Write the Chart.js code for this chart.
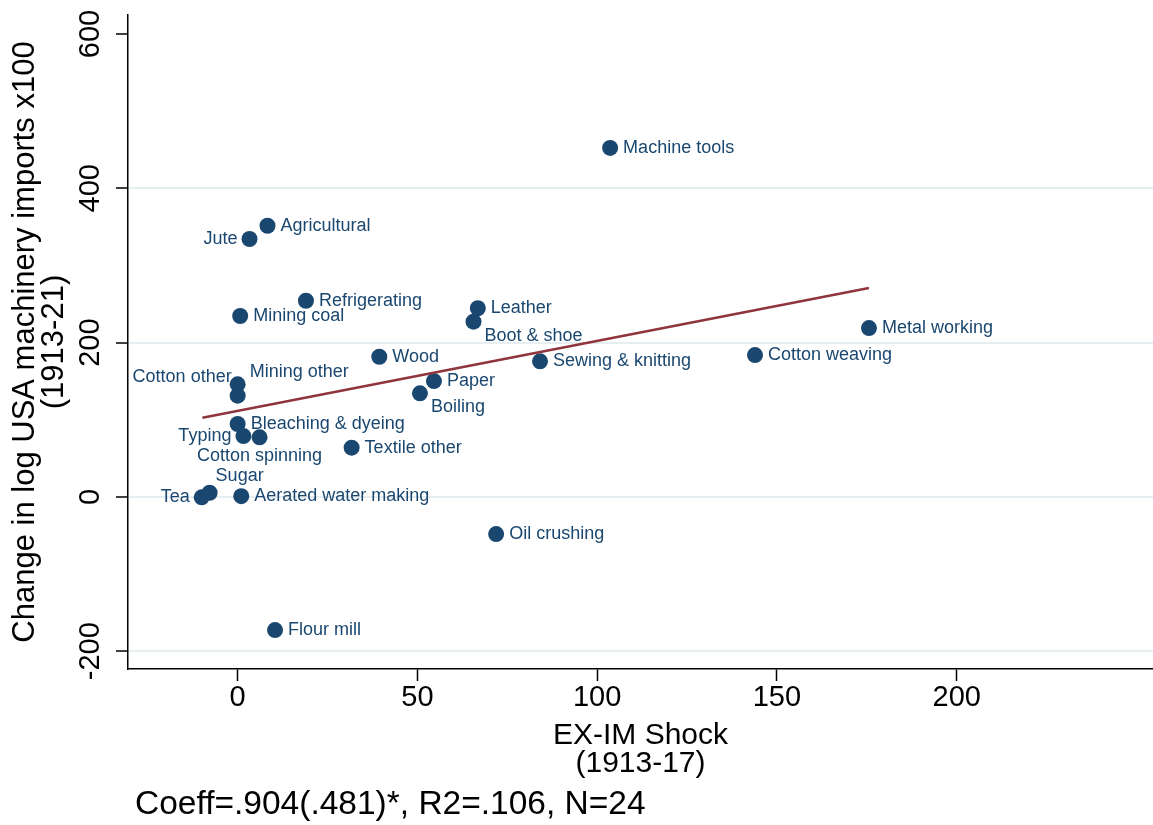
<!DOCTYPE html>
<html>
<head>
<meta charset="utf-8">
<script src="https://cdn.jsdelivr.net/npm/chart.js@4"></script>
<style>
  body { margin: 0; background: #fff; }
  #wrap { width: 1153px; height: 825px; }
</style>
</head>
<body>
<div id="wrap"><canvas id="shockChart" width="1153" height="825"></canvas></div>
<script>
// industries (marker labels)
const industries = ['Machine tools', 'Agricultural', 'Jute', 'Refrigerating', 'Mining coal', 'Leather',
  'Boot & shoe', 'Metal working', 'Wood', 'Cotton weaving', 'Sewing & knitting', 'Paper', 'Boiling',
  'Cotton other', 'Mining other', 'Bleaching & dyeing', 'Typing', 'Cotton spinning', 'Textile other',
  'Tea', 'Sugar', 'Aerated water making', 'Oil crushing', 'Flour mill'];
// EX-IM shock 1913-17
const shock = [103.6, 8.3, 3.3, 19.0, 0.7, 66.8, 65.6, 175.6, 39.4, 143.9, 84.1, 54.6, 50.7,
  0.0, 0.0, 0.0, 1.6, 6.1, 31.7, -10.0, -7.8, 1.0, 71.9, 10.4];
// change in log USA machinery imports x100, 1913-21
const importChange = [452.3, 351.5, 334.3, 254.3, 234.5, 244.5, 227.1, 218.9, 181.7, 183.9, 175.8, 150.2, 134.3,
  146.0, 131.2, 94.5, 78.9, 77.3, 63.8, -0.5, 5.4, 1.0, -48.1, -172.5];
// fitted line end points
const fitX = [-9.8, 175.6];
const fitY = [102.7, 270.8];
const xTicks = [0, 50, 100, 150, 200];
const yTicks = [-200, 0, 200, 400, 600];
const noteText = 'Coeff=.904(.481)*, R2=.106, N=24';

// where each marker label sits (clock position, Stata style)
const labelPos = [3, 3, 9, 3, 3, 3, 4, 3, 3, 3, 3, 3, 4, 10, 2, 3, 9, 6, 3, 9, 1, 3, 3, 3];
const clock = {
  1: [6, -17, 'left'], 2: [12, -24, 'left'], 3: [13, 0, 'left'], 4: [11, 14, 'left'],
  6: [0, 19, 'center'], 9: [-12, 0, 'right'], 10: [-6, -7, 'right']
};

const FONT = "'Liberation Sans', Arial, sans-serif";
const navy = '#1a476f';
const maroon = '#90353b';

const markerLabels = {
  id: 'markerLabels',
  afterDatasetsDraw(chart) {
    const ctx = chart.ctx;
    const meta = chart.getDatasetMeta(1);
    ctx.save();
    ctx.font = '18px ' + FONT;
    ctx.fillStyle = navy;
    ctx.textBaseline = 'middle';
    meta.data.forEach((pt, i) => {
      const p = clock[labelPos[i]];
      ctx.textAlign = p[2];
      ctx.fillText(industries[i], pt.x + p[0], pt.y + p[1]);
    });
    ctx.restore();
  }
};

const extraText = {
  id: 'extraText',
  afterDraw(chart) {
    const ctx = chart.ctx;
    const y = chart.scales.y;
    ctx.save();
    // y tick labels, turned like the reference
    ctx.font = '29px ' + FONT;
    ctx.fillStyle = '#000';
    ctx.textAlign = 'center';
    ctx.textBaseline = 'alphabetic';
    yTicks.forEach(v => {
      ctx.save();
      ctx.translate(99, y.getPixelForValue(v));
      ctx.rotate(-Math.PI / 2);
      ctx.fillText(String(v), 0, 0);
      ctx.restore();
    });
    // note under the graph
    ctx.font = '33.5px ' + FONT;
    ctx.textAlign = 'left';
    ctx.fillText(noteText, 135, 814);
    ctx.restore();
  }
};

const ctx = document.getElementById('shockChart').getContext('2d');
new Chart(ctx, {
  type: 'scatter',
  data: {
    datasets: [{
      label: 'Fitted values',
      data: fitX.map((x, i) => ({ x: x, y: fitY[i] })),
      showLine: true,
      borderColor: maroon,
      borderWidth: 2.5,
      pointRadius: 0,
      order: 0
    }, {
      label: 'Industries',
      data: shock.map((x, i) => ({ x: x, y: importChange[i] })),
      backgroundColor: navy,
      borderWidth: 0,
      pointRadius: 8,
      order: 1
    }]
  },
  options: {
    responsive: false,
    animation: false,
    layout: { autoPadding: false, padding: { top: 15, right: 0, bottom: 47, left: 0 } },
    plugins: { legend: { display: false }, tooltip: { enabled: false } },
    scales: {
      x: {
        min: -30.5,
        max: 254.6,
        afterBuildTicks: s => { s.ticks = xTicks.map(v => ({ value: v })); },
        afterFit: s => { s.height = 109; s.paddingLeft = 0; s.paddingRight = 0; },
        border: { color: '#000', width: 1.5 },
        grid: { drawOnChartArea: false, drawTicks: true, tickLength: 12, tickColor: '#000', tickWidth: 1.5 },
        ticks: { color: '#000', padding: 0, font: { family: FONT, size: 29, lineHeight: 1.2 } },
        title: {
          display: true,
          text: ['EX-IM Shock', '(1913-17)'],
          color: '#000',
          padding: 0,
          font: { family: FONT, size: 30, lineHeight: 0.95 }
        }
      },
      y: {
        min: -223,
        max: 624.6,
        afterBuildTicks: s => { s.ticks = yTicks.map(v => ({ value: v })); },
        afterFit: s => { s.width = 128; s.paddingTop = 0; s.paddingBottom = 0; },
        border: { color: '#000', width: 1.5 },
        grid: {
          color: c => (c.tick && c.tick.value === 600) ? 'rgba(0,0,0,0)' : '#e6eef1',
          lineWidth: 2,
          drawTicks: true,
          tickLength: 12,
          tickColor: '#000',
          tickWidth: 1.5
        },
        ticks: { display: false },
        title: {
          display: true,
          text: ['Change in log USA machinery imports x100', '(1913-21)'],
          color: '#000',
          padding: { top: 11.5, bottom: 0 },
          font: { family: FONT, size: 31, lineHeight: 0.93 }
        }
      }
    }
  },
  plugins: [markerLabels, extraText]
});
</script>
</body>
</html>
